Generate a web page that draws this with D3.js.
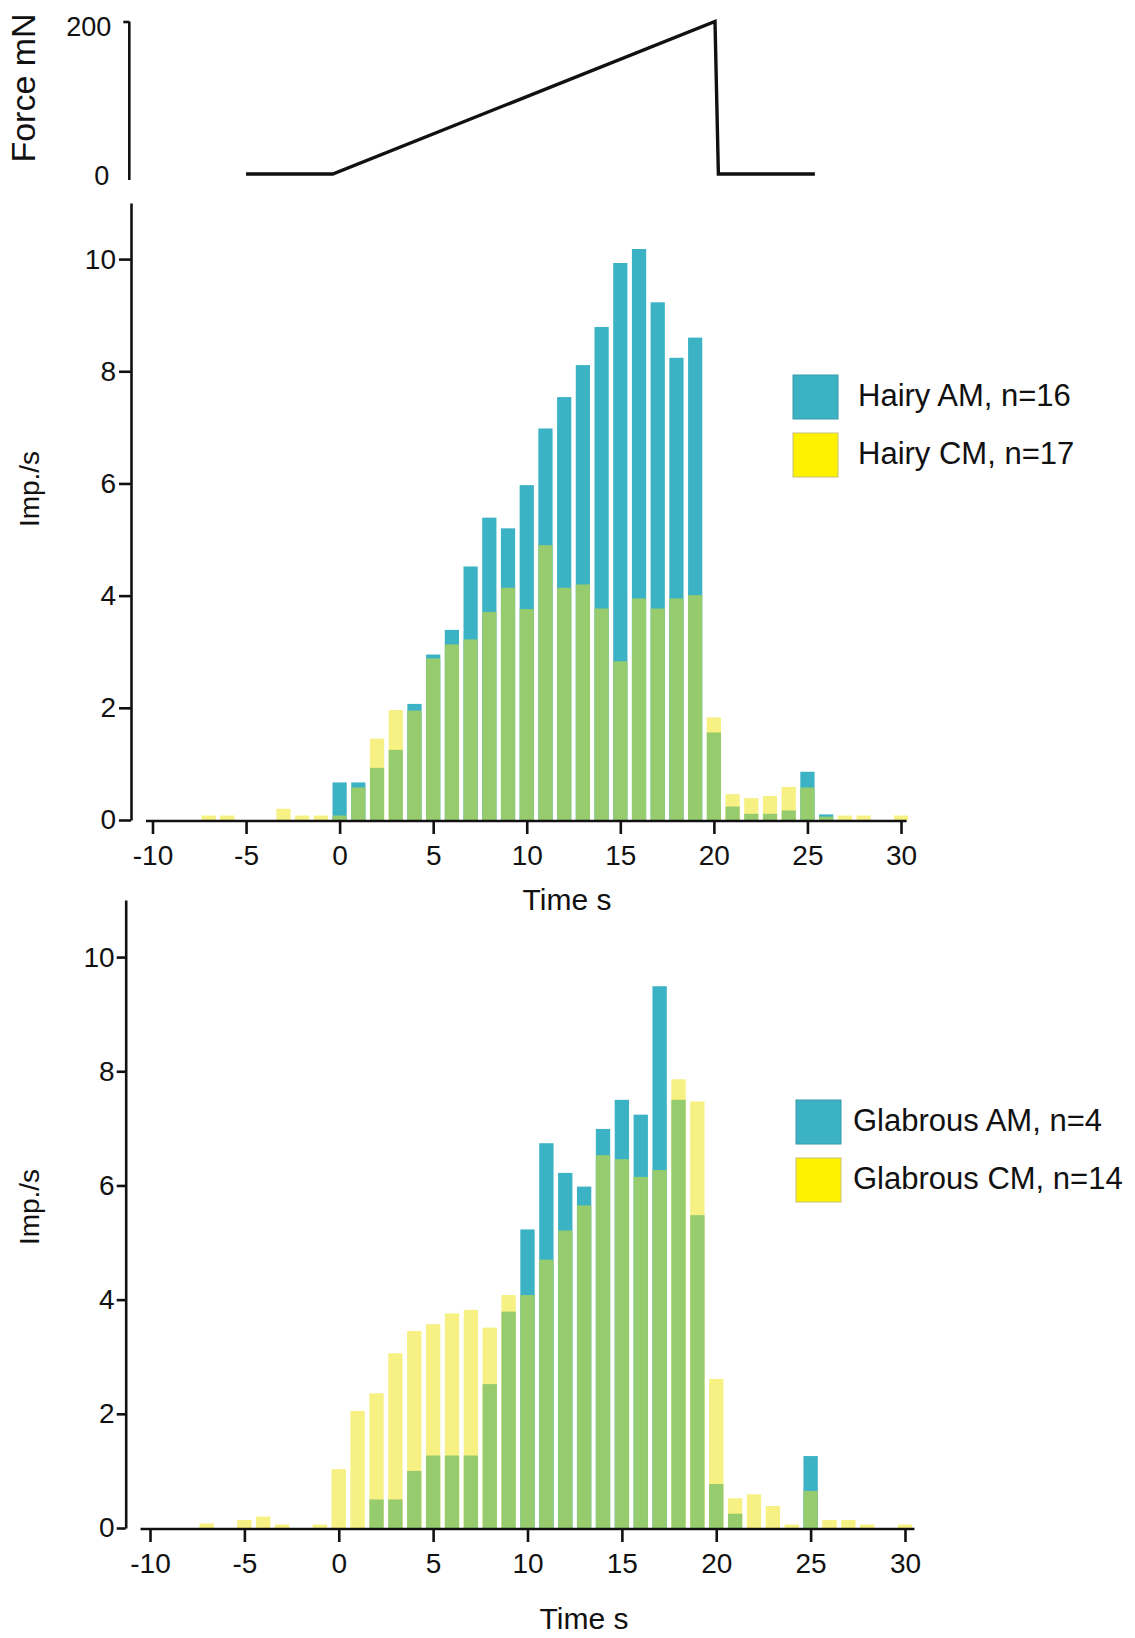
<!DOCTYPE html>
<html lang="en">
<head>
<meta charset="UTF-8">
<title>Force ramp responses: hairy vs glabrous skin</title>
<script src="https://d3js.org/d3.v7.min.js"></script>
<style>
  html, body { margin: 0; background: #fff; }
  svg { display: block; font-family: "Liberation Sans", Arial, sans-serif; }
  .axis path, .axis line { stroke: #111; stroke-width: 2.6; }
  .axis text { font-size: 28px; fill: #111; font-family: "Liberation Sans", Arial, sans-serif; }
  .title { font-size: 30px; fill: #111; }
  .legend text { font-size: 31px; fill: #111; }
</style>
</head>
<body>
<svg id="chart" width="1135" height="1638"></svg>
<script>
// time bins (s), one bar per second
const bins = [-7, -6, -5, -4, -3, -2, -1, 0, 1, 2, 3, 4, 5, 6, 7, 8, 9, 10, 11, 12,
  13, 14, 15, 16, 17, 18, 19, 20, 21, 22, 23, 24, 25, 26, 27, 28, 29, 30];

// Imp./s, hairy skin
const hairyAM = [0, 0, 0, 0, 0, 0, 0, 0.67, 0.67, 0.93, 1.25, 2.07, 2.95, 3.39, 4.52, 5.39, 5.2, 5.97, 6.98, 7.54,
  8.11, 8.79, 9.93, 10.18, 9.23, 8.24, 8.6, 1.56, 0.24, 0.11, 0.11, 0.17, 0.86, 0.1, 0, 0, 0, 0];
const hairyCM = [0.08, 0.08, 0, 0, 0.2, 0.08, 0.08, 0.08, 0.58, 1.45, 1.96, 1.95, 2.88, 3.13, 3.22, 3.71, 4.14, 3.76, 4.9, 4.14,
  4.2, 3.77, 2.83, 3.95, 3.77, 3.95, 4.01, 1.83, 0.46, 0.39, 0.43, 0.59, 0.58, 0.06, 0.08, 0.08, 0, 0.08];

// Imp./s, glabrous skin
const glabAM = [0, 0, 0, 0, 0, 0, 0, 0, 0, 0.5, 0.5, 1.0, 1.27, 1.27, 1.27, 2.52, 3.79, 5.23, 6.74, 6.22,
  5.98, 6.99, 7.5, 7.24, 9.49, 7.5, 5.48, 0.77, 0.25, 0, 0, 0, 1.26, 0, 0, 0, 0, 0];
const glabCM = [0.08, 0, 0.14, 0.2, 0.06, 0, 0.06, 1.03, 2.05, 2.36, 3.06, 3.45, 3.57, 3.76, 3.82, 3.51, 4.08, 4.08, 4.7, 5.21,
  5.65, 6.53, 6.46, 6.15, 6.27, 7.86, 7.47, 2.61, 0.52, 0.59, 0.385, 0.06, 0.65, 0.14, 0.14, 0.06, 0, 0.06];

// force ramp (time s, force mN)
const forceT = [-5, -0.37, 20.06, 20.24, 25.4];
const forceV = [0, 0, 200, 0, 0];

const xTicks = [-10, -5, 0, 5, 10, 15, 20, 25, 30];
const yTicks = [0, 2, 4, 6, 8, 10];
const hairyLegend = ["Hairy AM, n=16", "Hairy CM, n=17"];
const glabLegend = ["Glabrous AM, n=4", "Glabrous CM, n=14"];

const colAM = "#3bb3c4";
const colCM = "#f7f083";
const colBoth = "#96cb6e";
const legendCM = "#fff200";

const svg = d3.select("#chart");
const fmt = d => String(d); // plain hyphen for negatives

function drawPanel(p, am, cm, legendLabels) {
  const x = d3.scaleLinear().domain([-10, 30]).range(p.xRange);
  const y = d3.scaleLinear().domain([0, 11]).range([p.yBase, p.yTop]);
  const g = svg.append("g");
  const bw = (x(1) - x(0)) * 0.76;

  const rows = bins.map((t, i) => ({ t, am: am[i], cm: cm[i] }));

  // taller series behind, overlap (green) in front
  g.selectAll("rect.top")
    .data(rows.filter(d => Math.max(d.am, d.cm) > 0))
    .enter().append("rect")
    .attr("x", d => x(d.t) - bw / 2)
    .attr("width", bw)
    .attr("y", d => y(Math.max(d.am, d.cm)))
    .attr("height", d => y(0) - y(Math.max(d.am, d.cm)))
    .attr("fill", d => d.am > d.cm ? colAM : colCM);

  g.selectAll("rect.both")
    .data(rows.filter(d => Math.min(d.am, d.cm) > 0))
    .enter().append("rect")
    .attr("x", d => x(d.t) - bw / 2)
    .attr("width", bw)
    .attr("y", d => y(Math.min(d.am, d.cm)))
    .attr("height", d => y(0) - y(Math.min(d.am, d.cm)))
    .attr("fill", colBoth);

  // axes
  const xa = g.append("g").attr("class", "axis")
    .attr("transform", `translate(0,${p.yBase + 1})`)
    .call(d3.axisBottom(x).tickValues(xTicks).tickFormat(fmt)
      .tickSize(13).tickPadding(11).tickSizeOuter(0));
  xa.select(".domain").attr("d", `M${x(p.xExt[0])},0H${x(p.xExt[1])}`);

  g.append("g").attr("class", "axis")
    .attr("transform", `translate(${p.yAxisX},0)`)
    .call(d3.axisLeft(y).tickValues(yTicks).tickFormat(fmt)
      .tickSize(p.tickY).tickPadding(p.padY).tickSizeOuter(0));

  g.append("text").attr("class", "title")
    .attr("transform", `translate(${p.titleX},${p.titleY}) rotate(-90)`)
    .attr("text-anchor", "middle")
    .attr("dy", "0.35em")
    .style("font-size", "28px")
    .text("Imp./s");

  g.append("text").attr("class", "title")
    .attr("x", p.timeX).attr("y", p.timeY)
    .attr("text-anchor", "middle")
    .text("Time s");

  // legend
  const lg = g.append("g").attr("class", "legend");
  [colAM, legendCM].forEach((c, i) => {
    lg.append("rect")
      .attr("x", p.legX).attr("y", p.legY + i * 58)
      .attr("width", 45).attr("height", 44)
      .attr("fill", c)
      .attr("stroke", i === 0 ? "#3a9aa8" : "#c9c27a")
      .attr("stroke-width", 1);
    lg.append("text")
      .attr("x", p.legTextX).attr("y", p.legY + i * 58 + 20)
      .attr("dy", "0.35em")
      .text(legendLabels[i]);
  });
  return x;
}

const xHairy = drawPanel({
  xRange: [152.5, 901], xExt: [-10.35, 30.3], yBase: 820, yTop: 203,
  yAxisX: 131, tickY: 12, padY: 3,
  titleX: 29, titleY: 489, timeX: 567, timeY: 910,
  legX: 793, legY: 375, legTextX: 858
}, hairyAM, hairyCM, hairyLegend);

drawPanel({
  xRange: [150, 905], xExt: [-10.5, 30.5], yBase: 1528, yTop: 900,
  yAxisX: 125.7, tickY: 9, padY: 2,
  titleX: 29, titleY: 1207, timeX: 584, timeY: 1629,
  legX: 796, legY: 1100, legTextX: 853
}, glabAM, glabCM, glabLegend);

// force trace on top, shares the hairy time scale
const yF = d3.scaleLinear().domain([0, 200]).range([174, 21.5]);
const fAxis = svg.append("g").attr("class", "axis")
  .attr("transform", "translate(129.3,0)")
  .call(d3.axisLeft(yF).tickValues([0, 200]).tickSize(6).tickPadding(12).tickSizeOuter(0));
fAxis.select(".domain").attr("d", `M0,${yF(200)}V180`);
fAxis.selectAll(".tick").filter(d => d === 0).select("line").remove();
fAxis.selectAll(".tick text").style("font-size", "27px").attr("dy", "0.5em");
fAxis.selectAll(".tick").filter(d => d === 0).select("text").attr("x", -20).attr("dy", "0.4em");

svg.append("path")
  .datum(forceT.map((t, i) => [t, forceV[i]]))
  .attr("fill", "none")
  .attr("stroke", "#111")
  .attr("stroke-width", 3.4)
  .attr("stroke-linejoin", "miter")
  .attr("d", d3.line().x(d => xHairy(d[0])).y(d => yF(d[1])));

svg.append("text").attr("class", "title")
  .attr("transform", "translate(23,88) rotate(-90)")
  .attr("text-anchor", "middle")
  .attr("dy", "0.35em")
  .style("font-size", "34px")
  .text("Force mN");
</script>
</body>
</html>
